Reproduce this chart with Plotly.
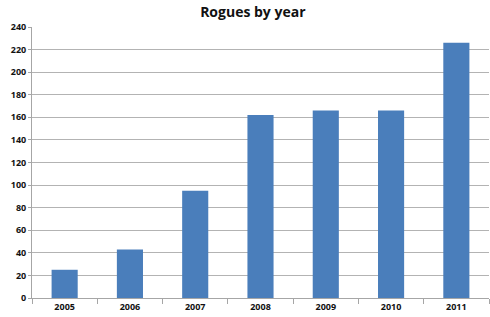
import plotly.graph_objects as go

years = ["2005", "2006", "2007", "2008", "2009", "2010", "2011"]
rogues = [25, 43, 95, 162, 166, 166, 226]
y_ticks = list(range(0, 241, 20))

fig = go.Figure(go.Bar(x=years, y=rogues, marker=dict(color="#4A7EBB", line=dict(width=0)), width=0.4))

tick_font = dict(family="Open Sans", size=9, color="#111", weight="bold")
fig.update_layout(
    width=490, height=317,
    margin=dict(l=32, r=1, t=27, b=19),
    paper_bgcolor="white", plot_bgcolor="white",
    title=dict(text="<b>Rogues by year</b>", x=0.516, xanchor="center", y=0.962, yanchor="middle",
               font=dict(family="Open Sans", size=14, color="#111")),
    showlegend=False,
    bargap=0.6,
)
fig.update_yaxes(range=[0, 240], tickvals=y_ticks, showgrid=True, gridcolor="#b3b3b3", gridwidth=1,
                 showline=True, linecolor="#a6a6a6", linewidth=1, ticks="outside", ticklen=3,
                 tickcolor="#a6a6a6", tickfont=tick_font, zeroline=False, fixedrange=True)
fig.update_xaxes(showline=True, linecolor="#a6a6a6", linewidth=1, ticks="outside", tickson="boundaries",
                 ticklen=5, tickcolor="#a6a6a6", tickfont=tick_font, showgrid=False)
fig.write_html("out.html")
